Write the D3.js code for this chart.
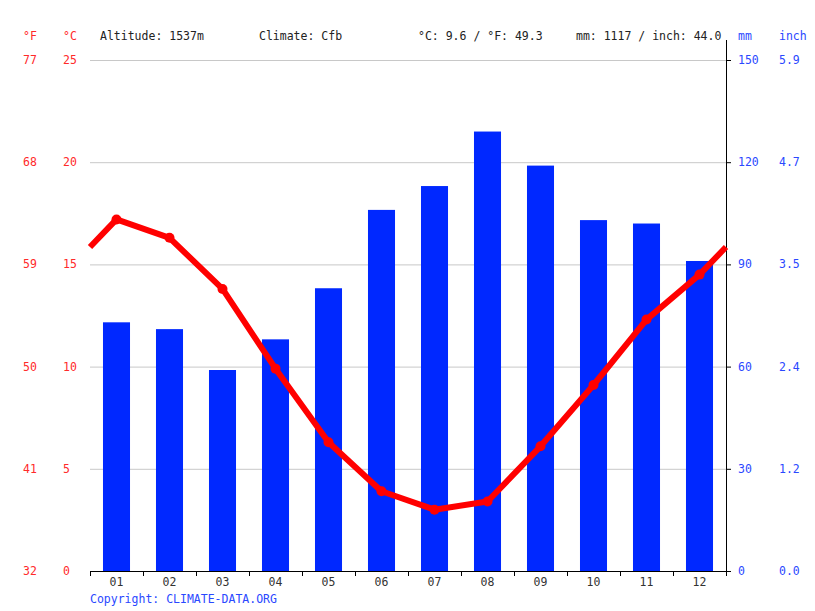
<!DOCTYPE html>
<html lang="en">
<head>
    <meta charset="utf-8" />
    <title>Climate chart</title>
    <script src="https://d3js.org/d3.v7.min.js"></script>
    <style>
        body { margin: 0; background: #fff; }
        text { font-family: "DejaVu Sans Mono", monospace; font-size: 11.5px; }
    </style>
</head>
<body>
    <div id="chart"></div>
    <script>
        // Data
        const months = ["01", "02", "03", "04", "05", "06", "07", "08", "09", "10", "11", "12"];
        const precipMm = [73, 71, 59, 68, 83, 106, 113, 129, 119, 103, 102, 91];
        const tempC = [17.2, 16.3, 13.8, 9.9, 6.3, 3.9, 3.0, 3.4, 6.1, 9.1, 12.3, 14.5];
        const tempTicksC = [0, 5, 10, 15, 20, 25];
        const tempTicksF = ["32", "41", "50", "59", "68", "77"];
        const precipTicksMm = [0, 30, 60, 90, 120, 150];
        const precipTicksInch = ["0.0", "1.2", "2.4", "3.5", "4.7", "5.9"];
        const headerTexts = [
            { x: 100, label: "Altitude: 1537m" },
            { x: 259, label: "Climate: Cfb" },
            { x: 418, label: "°C: 9.6 / °F: 49.3" },
            { x: 576, label: "mm: 1117 / inch: 44.0" }
        ];

        const W = 815, H = 611;
        const pLeft = 90, pRight = 726, pTop = 60, pBottom = 571;
        const red = "#ff0000", redText = "#ff2a2a", blue = "#0028ff", blueText = "#2a48ff";

        const svg = d3.select("#chart").append("svg")
            .attr("width", W).attr("height", H);

        const x = d3.scaleBand().domain(months).range([pLeft, pRight])
            .paddingInner(0.49).paddingOuter(0.245);
        const yT = d3.scaleLinear().domain([0, 25]).range([pBottom, pTop]);
        const yP = d3.scaleLinear().domain([0, 150]).range([pBottom, pTop]);
        const cx = m => x(m) + x.bandwidth() / 2;

        // grid
        svg.append("g").selectAll("line")
            .data(tempTicksC.filter(d => d > 0))
            .enter().append("line")
            .attr("x1", pLeft).attr("x2", pRight)
            .attr("y1", d => yT(d) + 0.5).attr("y2", d => yT(d) + 0.5)
            .attr("stroke", "#c8c8c8").attr("stroke-width", 1);

        // bars
        svg.append("g").selectAll("rect")
            .data(precipMm)
            .enter().append("rect")
            .attr("x", (d, i) => x(months[i]))
            .attr("width", x.bandwidth())
            .attr("y", d => yP(d))
            .attr("height", d => pBottom - yP(d))
            .attr("fill", blue);

        // bottom axis
        const xAxis = svg.append("g");
        xAxis.append("line")
            .attr("x1", pLeft).attr("x2", pRight + 4)
            .attr("y1", pBottom + 0.5).attr("y2", pBottom + 0.5)
            .attr("stroke", "#000");
        const step = x.step();
        xAxis.selectAll(".tick")
            .data(d3.range(months.length + 1))
            .enter().append("line")
            .attr("x1", i => pLeft + i * step + 0.5).attr("x2", i => pLeft + i * step + 0.5)
            .attr("y1", pBottom).attr("y2", pBottom + 5)
            .attr("stroke", "#000");
        xAxis.selectAll("text")
            .data(months)
            .enter().append("text")
            .attr("x", d => cx(d)).attr("y", pBottom + 15)
            .attr("text-anchor", "middle").attr("fill", "#333")
            .text(d => d);

        // right axis
        const rAxis = svg.append("g");
        rAxis.append("line")
            .attr("x1", pRight + 0.5).attr("x2", pRight + 0.5)
            .attr("y1", 40).attr("y2", pBottom + 1)
            .attr("stroke", "#000");
        rAxis.selectAll(".tick")
            .data(precipTicksMm)
            .enter().append("line")
            .attr("x1", pRight).attr("x2", pRight + 5)
            .attr("y1", d => yP(d) + 0.5).attr("y2", d => yP(d) + 0.5)
            .attr("stroke", "#000");
        rAxis.selectAll(".mm")
            .data(precipTicksMm)
            .enter().append("text")
            .attr("x", 738).attr("y", d => yP(d) + 4)
            .attr("fill", blueText).text(d => d);
        rAxis.selectAll(".inch")
            .data(precipTicksInch)
            .enter().append("text")
            .attr("x", 779).attr("y", (d, i) => yP(precipTicksMm[i]) + 4)
            .attr("fill", blueText).text(d => d);

        // left labels
        svg.append("g").selectAll("text")
            .data(tempTicksC)
            .enter().append("text")
            .attr("x", 63).attr("y", d => yT(d) + 4)
            .attr("fill", redText).text(d => d);
        svg.append("g").selectAll("text")
            .data(tempTicksF)
            .enter().append("text")
            .attr("x", 23).attr("y", (d, i) => yT(tempTicksC[i]) + 4)
            .attr("fill", redText).text(d => d);

        // header
        svg.append("text").attr("x", 23).attr("y", 40).attr("fill", redText).text("°F");
        svg.append("text").attr("x", 63).attr("y", 40).attr("fill", redText).text("°C");
        svg.append("text").attr("x", 738).attr("y", 40).attr("fill", blueText).text("mm");
        svg.append("text").attr("x", 779).attr("y", 40).attr("fill", blueText).text("inch");
        svg.append("g").selectAll("text")
            .data(headerTexts)
            .enter().append("text")
            .attr("x", d => d.x).attr("y", 40)
            .attr("fill", "#222").text(d => d.label);

        // temperature line, wrapping Dec/Jan at the edges
        const edge = (tempC[0] + tempC[tempC.length - 1]) / 2;
        const pts = [[pLeft, yT(edge)]]
            .concat(tempC.map((d, i) => [cx(months[i]), yT(d)]))
            .concat([[pRight, yT(edge)]]);
        svg.append("path")
            .attr("d", d3.line()(pts))
            .attr("fill", "none").attr("stroke", red)
            .attr("stroke-width", 6).attr("stroke-linejoin", "round");
        svg.append("g").selectAll("circle")
            .data(tempC)
            .enter().append("circle")
            .attr("cx", (d, i) => cx(months[i])).attr("cy", d => yT(d))
            .attr("r", 5).attr("fill", red);

        // copyright
        svg.append("text").attr("x", 90).attr("y", 603)
            .attr("fill", blueText).text("Copyright: CLIMATE-DATA.ORG");
    </script>
</body>
</html>
